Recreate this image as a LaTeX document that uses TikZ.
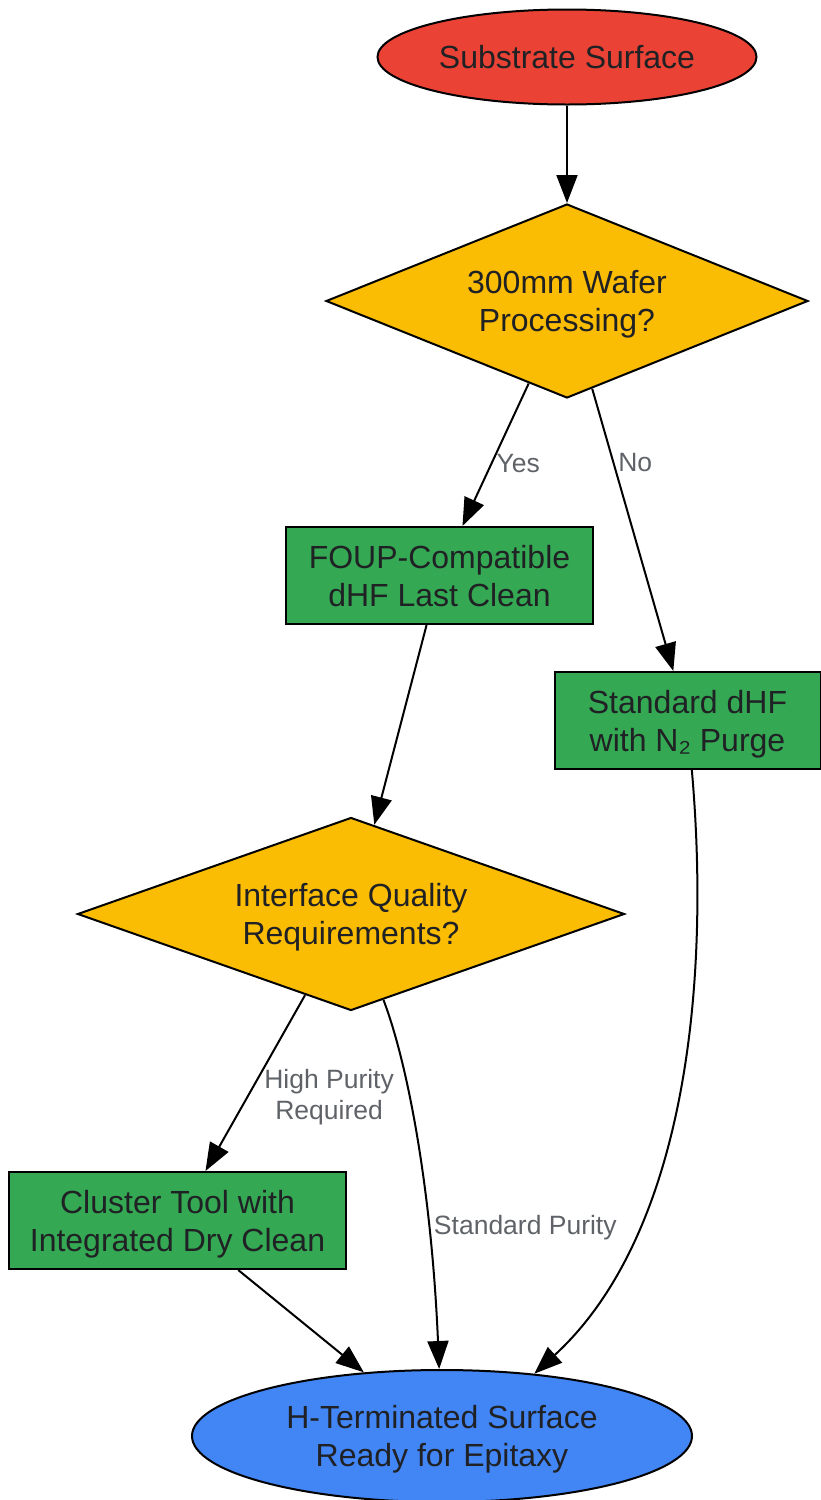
\documentclass[tikz,border=0pt]{standalone}
\usepackage{fontspec}
\setmainfont{Liberation Sans}
\usetikzlibrary{shapes.geometric, arrows.meta, positioning}

\definecolor{startred}{HTML}{EA4335}
\definecolor{askyellow}{HTML}{FBBC04}
\definecolor{stepgreen}{HTML}{34A853}
\definecolor{endblue}{HTML}{4285F4}
\definecolor{inkdark}{HTML}{202124}
\definecolor{labelgray}{HTML}{5F6368}

\begin{document}
\begin{tikzpicture}[x=0.5pt, y=-0.5pt, line width=1pt,
    >={Triangle[length=14pt, width=10.5pt]},
    every node/.style={text=inkdark, font=\fontsize{16}{19}\selectfont, align=center, inner sep=0pt},
    terminal/.style={ellipse, draw=black, text depth=0pt},
    decision/.style={diamond, draw=black, fill=askyellow, text depth=0pt},
    process/.style={rectangle, draw=black, fill=stepgreen, minimum height=48.5pt, text depth=0pt},
    edgelabel/.style={text=labelgray, font=\fontsize{13.25}{15.5}\selectfont, inner sep=2pt}]
    % Frame
    \useasboundingbox (0, 0) rectangle (820, 1500);

    % Start and end
    \node[terminal, fill=startred, minimum width=189.5pt, minimum height=47.5pt] (substrate) at (567, 57) {Substrate Surface};
    \node[terminal, fill=endblue, minimum width=250pt, minimum height=66pt] (done) at (442, 1436) {H-Terminated Surface\\Ready for Epitaxy};

    % Decisions
    \node[decision, shape aspect=2.5, minimum width=241pt, minimum height=97pt] (wafer) at (567, 301) {300mm Wafer\\Processing?};
    \node[decision, shape aspect=2.8, minimum width=273.5pt, minimum height=96.5pt] (quality) at (351, 914) {Interface Quality\\Requirements?};

    % Clean steps
    \node[process, minimum width=153.5pt] (foup) at (439.5, 575.5) {FOUP-Compatible\\dHF Last Clean};
    \node[process, minimum width=133pt] (standard) at (687.5, 720.5) {Standard dHF\\with N₂ Purge};
    \node[process, minimum width=168.5pt] (cluster) at (177.5, 1220.5) {Cluster Tool with\\Integrated Dry Clean};

    % Arrows
    \draw[->] (substrate) -- (wafer);
    \draw[->] (wafer) -- node[edgelabel, pos=0.56, right] {Yes} (foup);
    \draw[->] (wafer) -- node[edgelabel, pos=0.26, right] {No} (standard);
    \draw[->] (foup) -- (quality);
    \draw[->] (quality) -- node[edgelabel, pos=0.58, right=6pt] {High Purity\\Required} (cluster);
    \draw[->] (quality) .. controls (410, 1070) and (432, 1200) .. node[edgelabel, pos=0.7, right] {Standard Purity} (done);
    \draw[->] (standard) .. controls (712, 1000) and (680, 1240) .. (done.34);
    \draw[->] (cluster) -- (done);
\end{tikzpicture}
\end{document}
